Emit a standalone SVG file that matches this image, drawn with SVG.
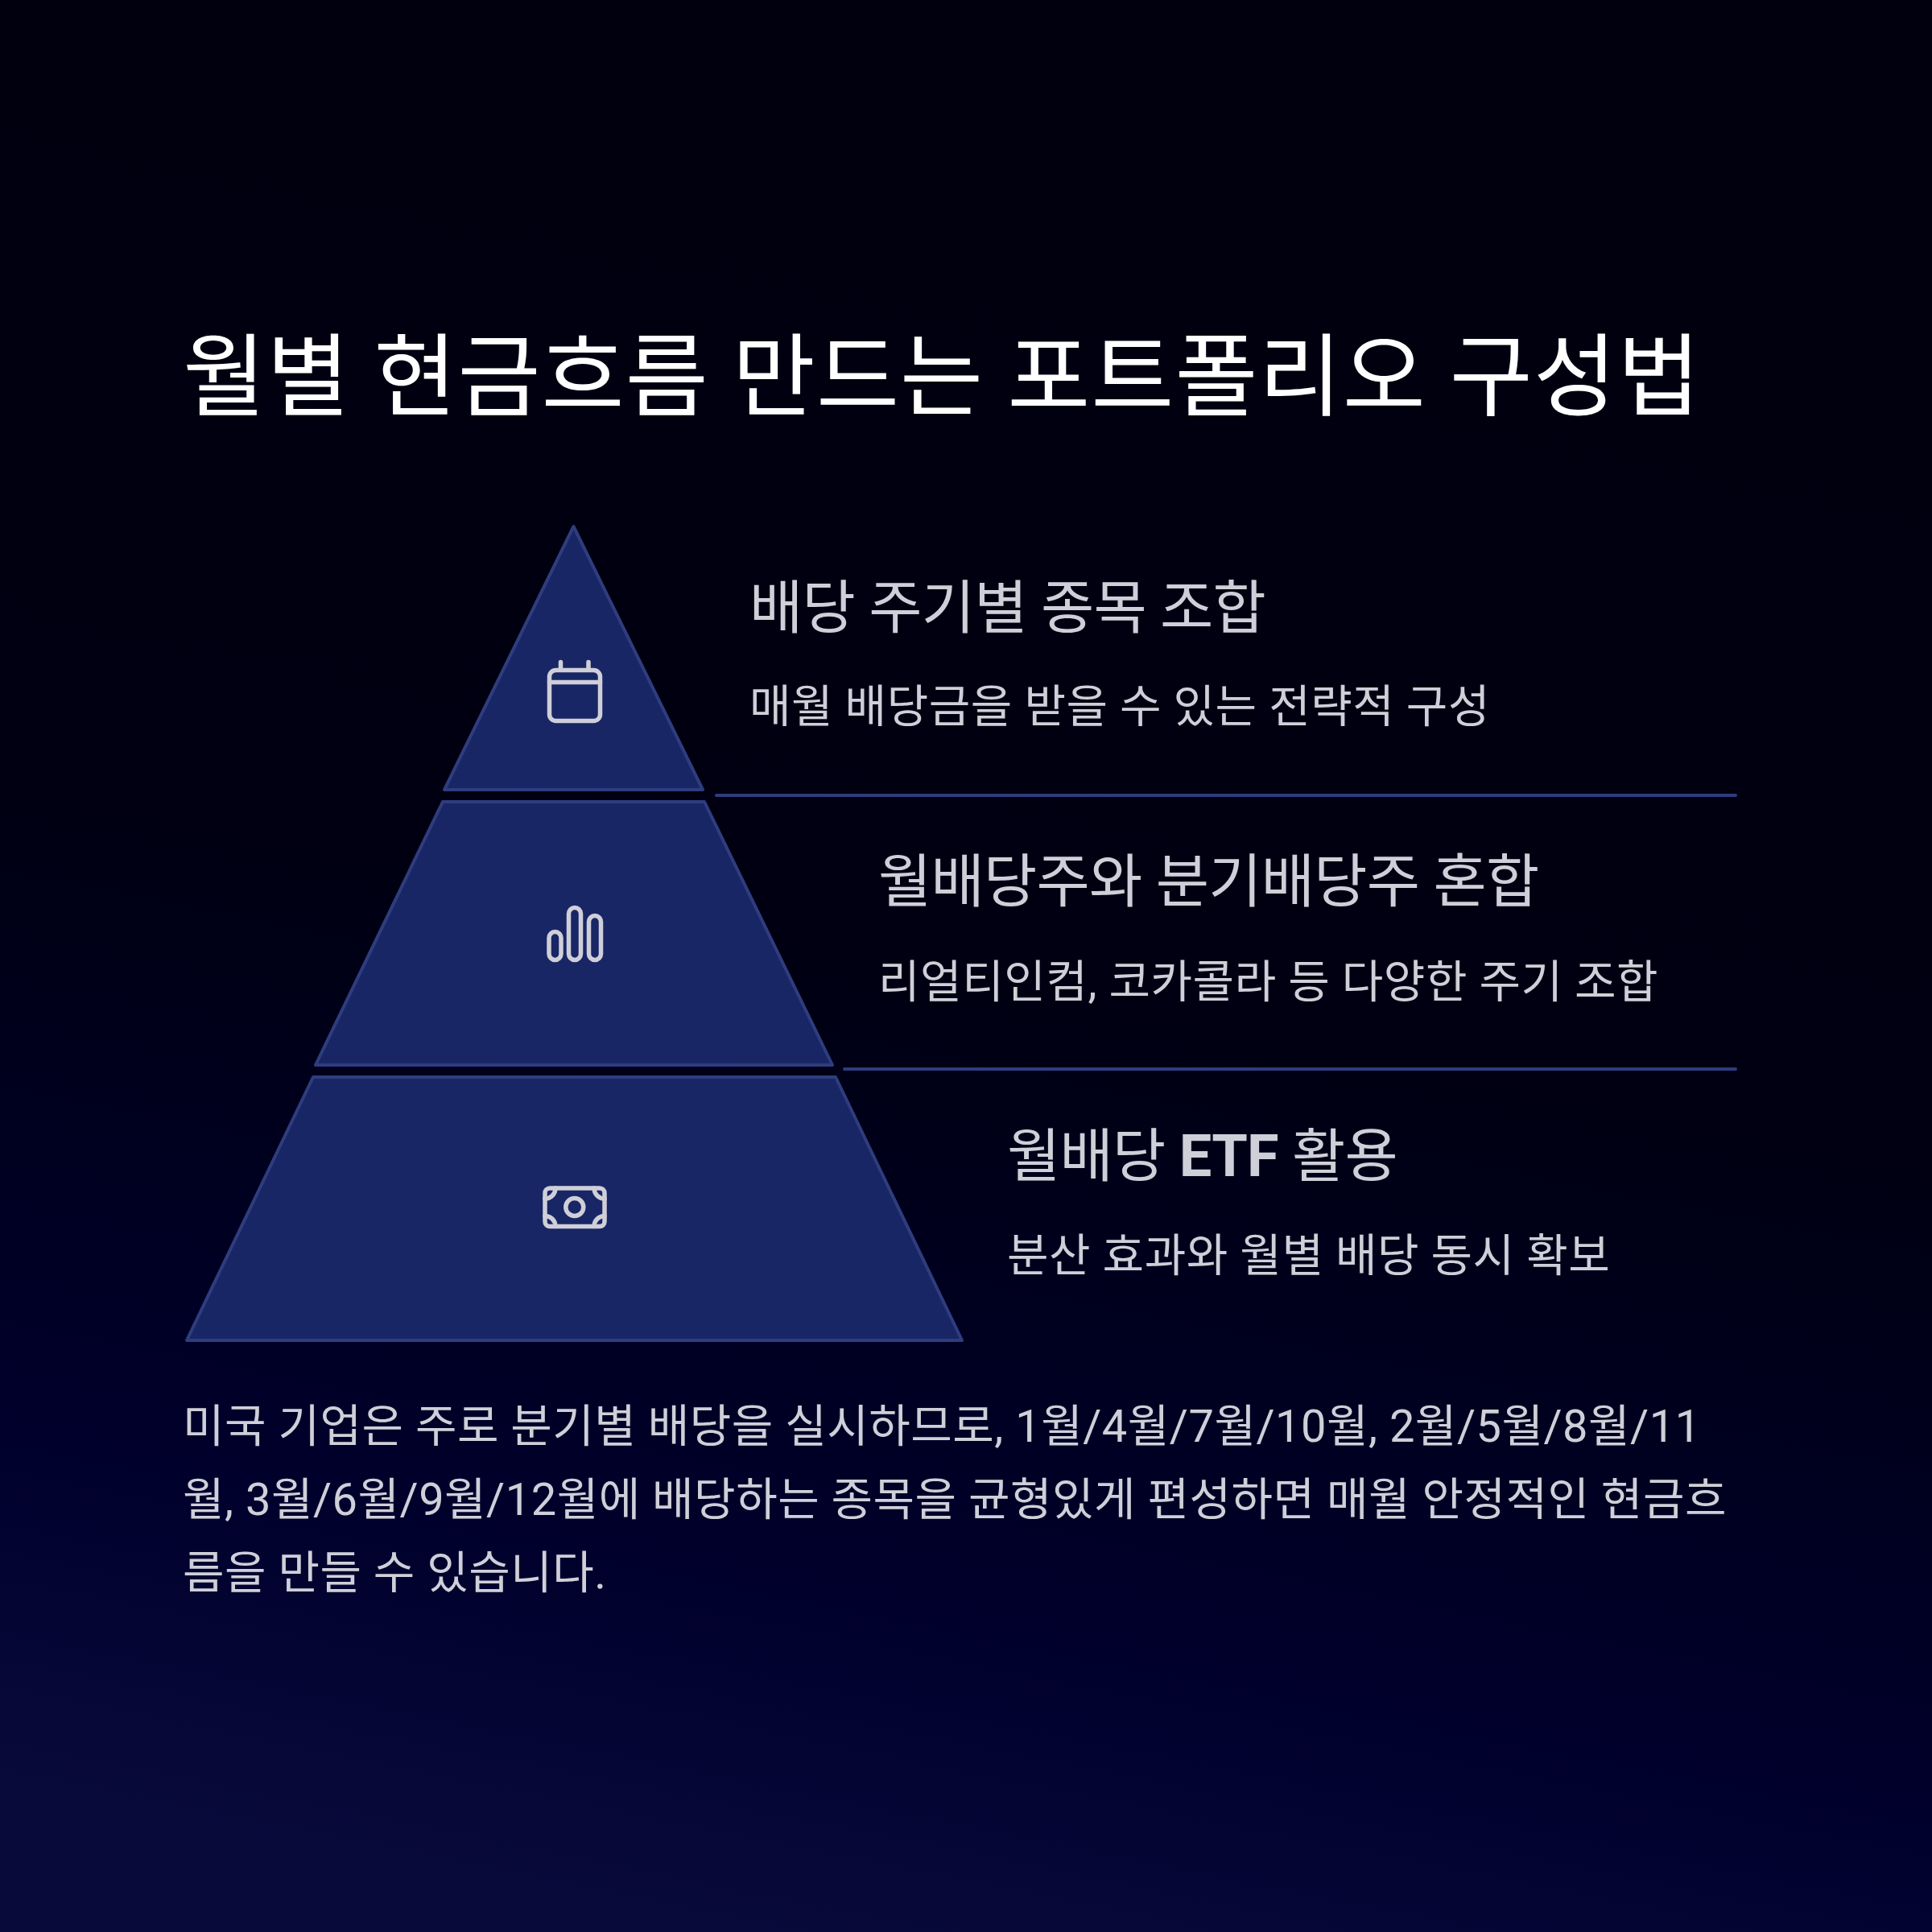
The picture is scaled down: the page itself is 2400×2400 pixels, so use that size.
<svg xmlns="http://www.w3.org/2000/svg" width="2400" height="2400" viewBox="0 0 2400 2400">
<defs>
<linearGradient id="bg" x1="0.57" y1="0" x2="0.37" y2="1"><stop offset="0" stop-color="#00000e"/><stop offset="0.5" stop-color="#000012"/><stop offset="0.82" stop-color="#00002c"/><stop offset="1" stop-color="#080a3a"/></linearGradient>
</defs>
<style>
text{font-family:Roboto,"Noto Sans CJK KR",sans-serif}
.tier{fill:#182665;stroke:#2f3d7f;stroke-width:4;stroke-linejoin:round}
.ico{fill:none;stroke:#cfcfd9;stroke-width:5.5;stroke-linecap:round;stroke-linejoin:round}
.div{stroke:#2f3d7f;stroke-width:4;stroke-linecap:round}
.t{font-size:72px;fill:#cfcfd9;letter-spacing:-0.72px}
.s{font-size:56px;fill:#cfcfd9;letter-spacing:0.56px}
.b{font-size:56px;fill:#cfcfd9;letter-spacing:0.5px}
</style>
<rect width="2400" height="2400" fill="url(#bg)"/>
<text id="title" x="227" y="508" font-size="112" letter-spacing="1.12" fill="#fff">월별 현금흐름 만드는 포트폴리오 구성법</text>
<g id="tier1"><path class="tier" d="M712.5 654L873 981H552Z"/>
<g class="ico"><rect x="682.5" y="832.5" width="63" height="63" rx="8"/><path d="M682.5 847.5H745.5M696.5 822.5V832M731 822.5V832"/></g>
<text class="t" x="931" y="780">배당 주기별 종목 조합</text><text class="s" x="931" y="897">매월 배당금을 받을 수 있는 전략적 구성</text></g>
<g id="tier2"><path class="tier" d="M550 996H875L1034 1323H392Z"/>
<g class="ico"><rect x="682" y="1157.5" width="15" height="35" rx="7.5"/><rect x="706.5" y="1127.5" width="15" height="65" rx="7.5"/><rect x="731.5" y="1137.5" width="15" height="55" rx="7.5"/></g>
<text class="t" x="1091" y="1120">월배당주와 분기배당주 혼합</text><text class="s" x="1091" y="1239">리얼티인컴, 코카콜라 등 다양한 주기 조합</text></g>
<g id="tier3"><path class="tier" d="M389 1338H1038L1195 1665H232Z"/>
<g class="ico"><rect x="677" y="1476" width="74" height="47.5" rx="6"/><circle cx="713.8" cy="1499.5" r="11"/><path d="M677 1489A13 13 0 0 0 690 1476M738 1476A13 13 0 0 0 751 1489M751 1510.5A13 13 0 0 0 738 1523.5M690 1523.5A13 13 0 0 0 677 1510.5"/></g>
<text class="t" x="1251" y="1461">월배당 <tspan font-weight="700">ETF</tspan> 활용</text><text class="s" x="1251" y="1579">분산 효과와 월별 배당 동시 확보</text></g>
<g id="connectors"><path class="div" d="M890 988H2156M1049 1328H2156"/></g>
<g id="body" class="b"><text x="227" y="1791">미국 기업은 주로 분기별 배당을 실시하므로, 1월/4월/7월/10월, 2월/5월/8월/11</text><text x="227" y="1882">월, 3월/6월/9월/12월에 배당하는 종목을 균형있게 편성하면 매월 안정적인 현금흐</text><text x="227" y="1973">름을 만들 수 있습니다.</text></g>
</svg>
